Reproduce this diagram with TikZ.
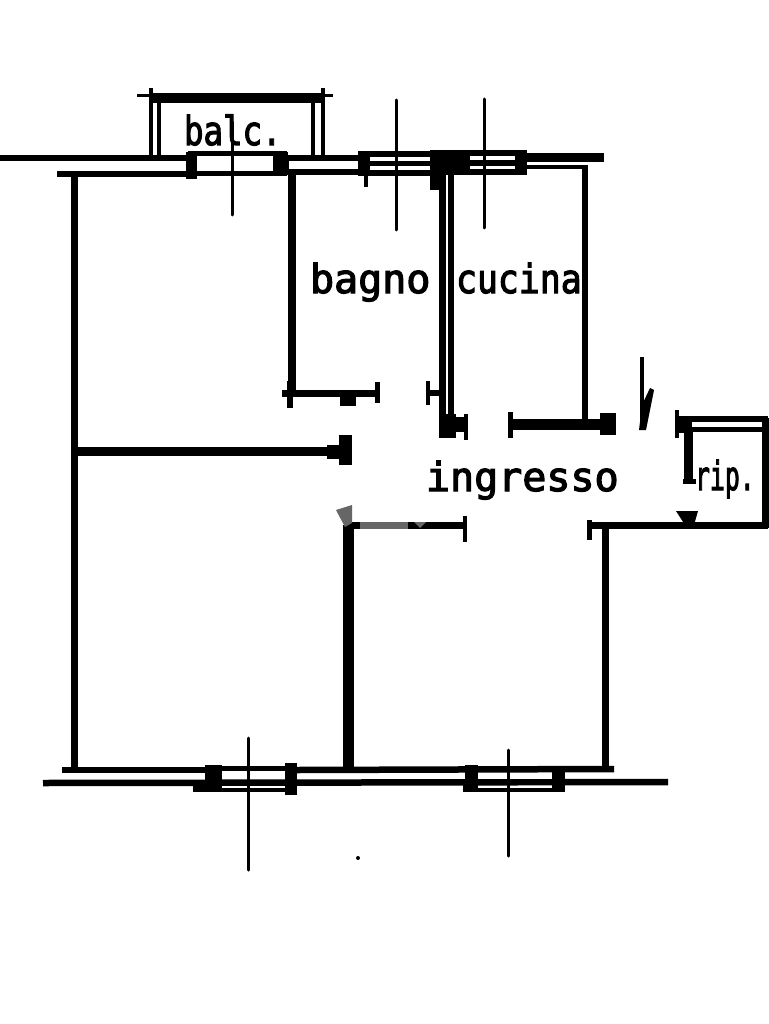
\documentclass[tikz,border=0pt]{standalone}
\usepackage{fontspec}
\newfontfamily\labfont[FakeBold=3]{DejaVu Sans Mono}
\tikzset{
  wl/.style={draw=black,line width=#1,line cap=butt},
  fillblk/.style={fill=black,draw=none},
  axisline/.style={draw=black,line width=3pt,line cap=round},
  graymark/.style={fill=black!60,draw=none},
  lbl/.style={inner sep=0pt,outer sep=0pt,anchor=base west,text=black}
}
\newcommand{\lab}[2]{\scalebox{#1}[1]{\fontsize{40}{44}\selectfont\labfont #2}}
\begin{document}
\begin{tikzpicture}[x=1pt,y=-1pt]
\useasboundingbox (0,0) rectangle (768,1024);
\fill[white] (0,0) rectangle (768,1024);

% ---- top wall
\draw[wl=6] (0,158) -- (190,158);
\draw[wl=6] (57,174) -- (190,174);
\draw[wl=6] (276,158) -- (360,158);
\draw[wl=6] (276,172.5) -- (360,172.5);
% balcony
\draw[wl=10] (152,98) -- (323,98);
\draw[wl=3] (137,96) -- (333,96);
\draw[wl=4.5] (151,88) -- (151,156);
\draw[wl=4.5] (159,98) -- (159,156);
\draw[wl=4.5] (313,98) -- (313,156);
\draw[wl=4.5] (323,88) -- (323,156);
% balcony door
\draw[wl=5] (188,154) -- (287,154);
\draw[wl=5] (188,174) -- (287,174);
\fill[fillblk] (186,152) rectangle (197,179);
\fill[fillblk] (273,152) rectangle (288,171);
\fill[fillblk] (283,160) rectangle (289,172);
% top right windows
\draw[wl=5.5] (358,154) -- (442,154);
\draw[wl=5.5] (358,163.5) -- (442,163.5);
\draw[wl=5.5] (358,173) -- (442,173);
\fill[fillblk] (358,152) rectangle (370,172);
\fill[fillblk] (364,172) rectangle (368,187);
\fill[fillblk] (430,150) rectangle (444,190);
\draw[wl=5.5] (444,153) -- (527,153);
\draw[wl=5.5] (444,163) -- (527,163);
\draw[wl=5.5] (444,172) -- (527,172);
\fill[fillblk] (444,152) rectangle (470,172);
\fill[fillblk] (515,151) rectangle (527,172);
\draw[wl=9] (527,157.5) -- (604,157.5);
\draw[wl=4] (527,167) -- (587,167);
% cross lines of the windows
\draw[axisline] (232,122) -- (232,215);
\draw[axisline] (396,100) -- (396,230);
\draw[axisline] (484,99) -- (484,228);

% ---- bath wall
\draw[wl=8] (292,172) -- (292,396);
\draw[wl=7] (282,393) -- (378,393);
\fill[fillblk] (287,381) rectangle (293,408);
\fill[fillblk] (340,394) rectangle (356,406);
\fill[fillblk] (375,382) rectangle (380,403);
% double wall
\draw[wl=6.5] (442.5,172) -- (442.5,416);
\draw[wl=6.5] (451,172) -- (451,416);
\fill[fillblk] (439,414) rectangle (456,438);
\fill[fillblk] (456,417) rectangle (466,432);
\fill[fillblk] (464,414) rectangle (467.5,440);
\draw[wl=6] (428,393) -- (442,393);
\fill[fillblk] (425.5,381) rectangle (430,405);
% kitchen
\draw[wl=6.5] (585,165) -- (585,420);
\draw[wl=11] (510,424) -- (615,424);
\fill[fillblk] (508,412) rectangle (513,438);
\fill[fillblk] (600,413) rectangle (616,435);
% door leaf
\draw[wl=3.5] (642,357) -- (642,428);
\fill[fillblk] (639,430) -- (646,430) -- (654,390) -- (650,388) -- (642,405) -- cycle;

% ---- ripostiglio
\draw[wl=6] (677,419) -- (768,419);
\draw[wl=5] (677,429) -- (768,429);
\fill[fillblk] (677,417) rectangle (692,433);
\fill[fillblk] (675,410) rectangle (679,438);
\draw[wl=9] (688,432) -- (688,484);
\fill[fillblk] (683,479) rectangle (696,484);
\draw[wl=7] (765,418) -- (765,528);
\draw[wl=7] (589,525) -- (768,525);
\fill[fillblk] (676,511) -- (698,511) -- (694,525) -- (685,525) -- cycle;
\fill[fillblk] (587,520) rectangle (592,540);
\draw[wl=7] (605,525) -- (605,768);

% ---- left rooms
\draw[wl=7] (74,174) -- (74,772);
\draw[wl=9] (74,451) -- (335,451);
\fill[fillblk] (327,445) rectangle (345,459);
\fill[fillblk] (339,435) rectangle (352,465);
% corridor wall
\draw[wl=11] (348,525) -- (348,772);
\draw[wl=7] (348,525.5) -- (465,525.5);
\fill[fillblk] (463,516) rectangle (467,542);
\fill[graymark] (336,510) -- (352,505) -- (352,523) -- (345,527) -- cycle;
\fill[graymark] (360,522) rectangle (408,529);
\fill[graymark] (414,522) -- (426,522) -- (420,528) -- cycle;

% ---- bottom wall
\draw[wl=6.5] (62,770) -- (205,770);
\draw[wl=5] (205,768) -- (297,768);
\draw[wl=6.5] (297,770) -- (614,769);
\draw[wl=6.5] (43,783) -- (668,782);
\fill[white] (222,775) rectangle (285,779);
\fill[white] (222,786) rectangle (285,788);
\draw[wl=4.5] (193,790) -- (297,790);
\fill[fillblk] (193,785) rectangle (222,792);
\fill[fillblk] (205,765) rectangle (222,792);
\fill[fillblk] (285,763) rectangle (297,795);
% window 2
\fill[white] (478,773) rectangle (552,779);
\fill[white] (478,786) rectangle (552,788);
\draw[wl=4.5] (463,790) -- (564,790);
\fill[fillblk] (463,785) rectangle (478,792);
\fill[fillblk] (465,765) rectangle (478,792);
\fill[fillblk] (552,767) rectangle (565,792);
\draw[axisline] (248,738) -- (248,870);
\draw[axisline] (508,750) -- (508,856);
\fill[black] (358,858) circle (2);

% ---- labels
\node[lbl] (balc) at (184,145) {\lab{.81}{balc.}};
\node[lbl] (bagno) at (310,293) {\lab{1}{bagno}};
\node[lbl] (cucina) at (456,293) {\lab{.87}{cucina}};
\node[lbl] (ingresso) at (426,491) {\lab{1}{ingresso}};
\node[lbl] (rip) at (695,490) {\lab{.62}{rip.}};
\end{tikzpicture}
\end{document}
